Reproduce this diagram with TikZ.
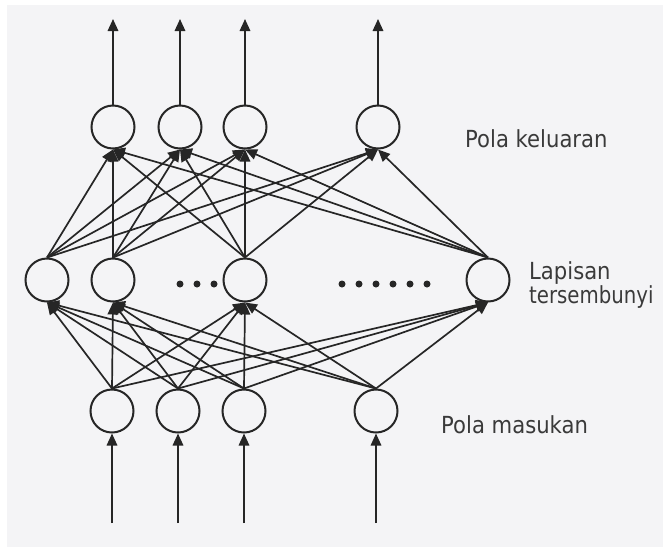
\documentclass[tikz,border=0pt]{standalone}
\usepackage{fontspec}
\setmainfont{DejaVu Sans}
\newfontfamily\lblfont[FakeStretch=0.9]{DejaVu Sans}
\newfontfamily\lblfontn[FakeStretch=0.84]{DejaVu Sans}
\usetikzlibrary{arrows.meta}
\definecolor{ink}{HTML}{262626}
\definecolor{txt}{HTML}{3A3A3A}
\definecolor{paper}{HTML}{F4F4F6}
\begin{document}
\begin{tikzpicture}[x=1pt,y=-1pt,
  neuron/.style={circle,draw=ink,line width=2pt,minimum size=43pt,inner sep=0pt},
  link/.style={draw=ink,line width=1.7pt,-{Triangle[length=12pt,width=10.5pt]}},
  lbl/.style={anchor=base west,inner sep=0pt,text=txt,font=\lblfont\fontsize{23.5}{24}\selectfont},
  lbln/.style={lbl,font=\lblfontn\fontsize{23.5}{24}\selectfont},
  dotn/.style={circle,fill=ink,inner sep=0pt,minimum size=7pt}]
\useasboundingbox (0,0) rectangle (663,547);
\fill[white] (0,0) rectangle (663,547);
\fill[paper] (7,5) rectangle (663,547);
% output layer
\node[neuron] (o1) at (113,127) {};
\node[neuron] (o2) at (180,127) {};
\node[neuron] (o3) at (245,127) {};
\node[neuron] (o4) at (378,127) {};
% hidden layer
\node[neuron] (h1) at (47,280) {};
\node[neuron] (h2) at (113,280) {};
\node[neuron] (h3) at (245,280) {};
\node[neuron] (h4) at (488,280) {};
% input layer
\node[neuron] (i1) at (112,411) {};
\node[neuron] (i2) at (178,411) {};
\node[neuron] (i3) at (244,411) {};
\node[neuron] (i4) at (376,411) {};
% free ends
\coordinate (t1) at (113,19);
\coordinate (t2) at (180,19);
\coordinate (t3) at (245,19);
\coordinate (t4) at (378,19);
\coordinate (b1) at (112,523);
\coordinate (b2) at (178,523);
\coordinate (b3) at (244,523);
\coordinate (b4) at (376,523);
% dots
\foreach \x [count=\k] in {180,197,214} \node[dotn] (da\k) at (\x,284) {};
\foreach \x [count=\k] in {342,359,376,393,410,427} \node[dotn] (db\k) at (\x,284) {};
% connections
\foreach \a in {1,...,4} {
  \foreach \b in {1,...,4} {
    \draw[link] (h\a.north) -- (o\b.south);
    \draw[link] (i\a.north) -- (h\b.south);
  }
  \draw[link] (o\a.north) -- (t\a);
  \draw[link] (b\a) -- (i\a.south);
}
% labels
\node[lbl] (lout) at (465,147) {Pola keluaran};
\node[lbl] (lhid1) at (529,279) {Lapisan};
\node[lbln] (lhid2) at (529,303) {tersembunyi};
\node[lbl] (lin) at (441,433) {Pola masukan};
\end{tikzpicture}
\end{document}
